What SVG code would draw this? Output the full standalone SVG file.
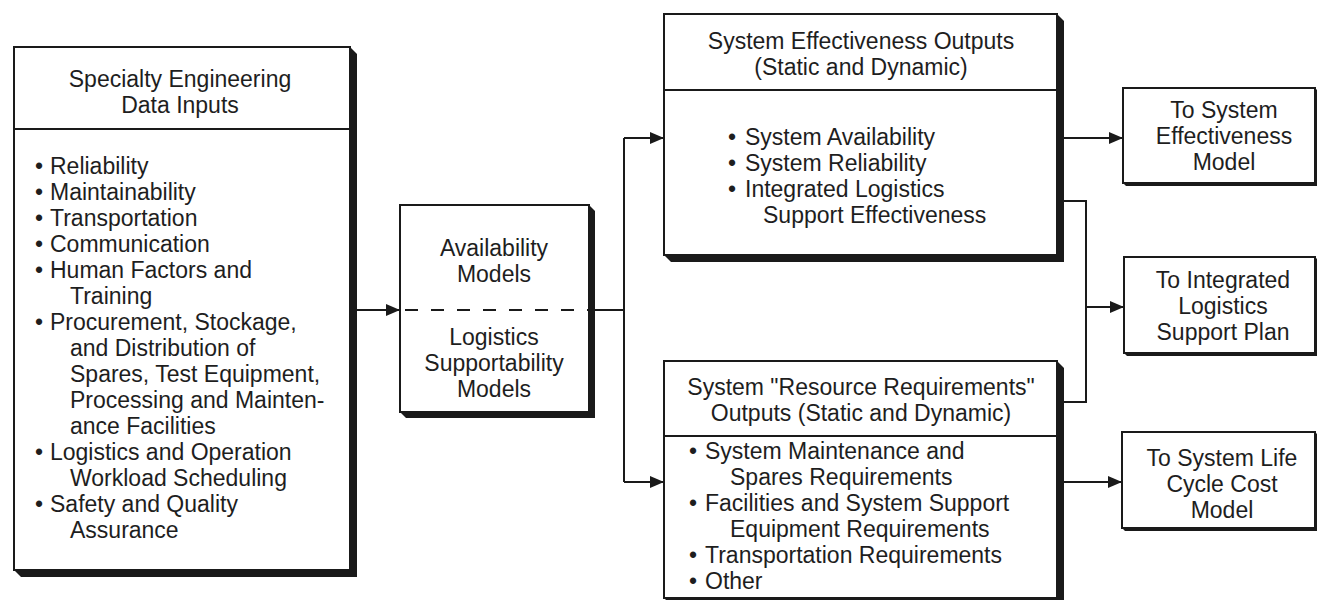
<svg xmlns="http://www.w3.org/2000/svg" width="1317" height="600" viewBox="0 0 1317 600">
<style>
.box{fill:#fff;stroke:#1a1a1a;stroke-width:2}
.shadow{fill:#1a1a1a}
.sep{stroke:#1a1a1a;stroke-width:2}
.t{font-family:"Liberation Sans",Arial,sans-serif;font-size:23px;fill:#1e1e1e}
.c{text-anchor:middle}
.ln{fill:none;stroke:#1a1a1a;stroke-width:2}
</style>
<defs>
<marker id="arr" markerUnits="userSpaceOnUse" markerWidth="14" markerHeight="12" refX="13" refY="6" orient="auto">
<path d="M0,0 L14,6 L0,12 z" fill="#1a1a1a"/>
</marker>
</defs>
<rect width="1317" height="600" fill="#fff"/>

<g id="connectors">
<line class="ln" x1="350" y1="310" x2="399" y2="310" marker-end="url(#arr)"/>
<line class="ln" x1="595" y1="310" x2="624" y2="310"/>
<line class="ln" x1="624" y1="138" x2="624" y2="482"/>
<line class="ln" x1="624" y1="138" x2="663" y2="138" marker-end="url(#arr)"/>
<line class="ln" x1="624" y1="482" x2="663" y2="482" marker-end="url(#arr)"/>
<line class="ln" x1="1064" y1="138" x2="1122" y2="138" marker-end="url(#arr)"/>
<polyline class="ln" points="1064,201 1086,201 1086,402 1064,402"/>
<line class="ln" x1="1086" y1="307" x2="1123" y2="307" marker-end="url(#arr)"/>
<line class="ln" x1="1064" y1="482" x2="1121" y2="482" marker-end="url(#arr)"/>
</g>

<g id="specialty-inputs">
<polygon class="shadow" points="350,47 357,54 357,577 21,577 14,570"/>
<rect class="box" x="14" y="47" width="336" height="523"/>
<line class="sep" x1="14" y1="129" x2="350" y2="129"/>
<text class="t c" x="180" y="87">Specialty Engineering</text>
<text class="t c" x="180" y="113">Data Inputs</text>
<g class="t">
<text x="35" y="174">•</text><text x="50" y="174">Reliability</text>
<text x="35" y="200">•</text><text x="50" y="200">Maintainability</text>
<text x="35" y="226">•</text><text x="50" y="226">Transportation</text>
<text x="35" y="252">•</text><text x="50" y="252">Communication</text>
<text x="35" y="278">•</text><text x="50" y="278">Human Factors and</text>
<text x="70" y="304">Training</text>
<text x="35" y="330">•</text><text x="50" y="330">Procurement, Stockage,</text>
<text x="70" y="356">and Distribution of</text>
<text x="70" y="382">Spares, Test Equipment,</text>
<text x="70" y="408">Processing and Mainten-</text>
<text x="70" y="434">ance Facilities</text>
<text x="35" y="460">•</text><text x="50" y="460">Logistics and Operation</text>
<text x="70" y="486">Workload Scheduling</text>
<text x="35" y="512">•</text><text x="50" y="512">Safety and Quality</text>
<text x="70" y="538">Assurance</text>
</g>
</g>

<g id="models">
<polygon class="shadow" points="589,205 595,211 595,418 406,418 400,412"/>
<rect class="box" x="400" y="205" width="189" height="207"/>
<line x1="402" y1="310" x2="589" y2="310" stroke="#1a1a1a" stroke-width="2" stroke-dasharray="13 13" stroke-dashoffset="-3"/>
<text class="t c" x="494" y="256">Availability</text>
<text class="t c" x="494" y="282">Models</text>
<text class="t c" x="494" y="345">Logistics</text>
<text class="t c" x="494" y="371">Supportability</text>
<text class="t c" x="494" y="397">Models</text>
</g>

<g id="effectiveness-outputs">
<polygon class="shadow" points="1057,14 1064,21 1064,262 671,262 664,255"/>
<rect class="box" x="664" y="14" width="393" height="241"/>
<line class="sep" x1="664" y1="90" x2="1057" y2="90"/>
<text class="t c" x="861" y="49">System Effectiveness Outputs</text>
<text class="t c" x="861" y="75">(Static and Dynamic)</text>
<g class="t">
<text x="728" y="145">•</text><text x="745" y="145">System Availability</text>
<text x="728" y="171">•</text><text x="745" y="171">System Reliability</text>
<text x="728" y="197">•</text><text x="745" y="197">Integrated Logistics</text>
<text x="763" y="223">Support Effectiveness</text>
</g>
</g>

<g id="resource-outputs">
<polygon class="shadow" points="1057,361 1064,368 1064,605 671,605 664,598"/>
<rect class="box" x="664" y="361" width="393" height="237"/>
<line class="sep" x1="664" y1="436" x2="1057" y2="436"/>
<text class="t c" x="861" y="395">System "Resource Requirements"</text>
<text class="t c" x="861" y="421">Outputs (Static and Dynamic)</text>
<g class="t">
<text x="689" y="459">•</text><text x="705" y="459">System Maintenance and</text>
<text x="730" y="485">Spares Requirements</text>
<text x="689" y="511">•</text><text x="705" y="511">Facilities and System Support</text>
<text x="730" y="537">Equipment Requirements</text>
<text x="689" y="563">•</text><text x="705" y="563">Transportation Requirements</text>
<text x="689" y="589">•</text><text x="705" y="589">Other</text>
</g>
</g>

<g id="to-effectiveness-model">
<polygon class="shadow" points="1315,88 1318,91 1318,186 1126,186 1123,183"/>
<rect class="box" x="1123" y="88" width="192" height="95"/>
<text class="t c" x="1224" y="118">To System</text>
<text class="t c" x="1224" y="144">Effectiveness</text>
<text class="t c" x="1224" y="170">Model</text>
</g>

<g id="to-ils-plan">
<polygon class="shadow" points="1315,257 1318,260 1318,356 1127,356 1124,353"/>
<rect class="box" x="1124" y="257" width="191" height="96"/>
<text class="t c" x="1223" y="288">To Integrated</text>
<text class="t c" x="1223" y="314">Logistics</text>
<text class="t c" x="1223" y="340">Support Plan</text>
</g>

<g id="to-lcc-model">
<polygon class="shadow" points="1315,432 1318,435 1318,531 1125,531 1122,528"/>
<rect class="box" x="1122" y="432" width="193" height="96"/>
<text class="t c" x="1222" y="466">To System Life</text>
<text class="t c" x="1222" y="492">Cycle Cost</text>
<text class="t c" x="1222" y="518">Model</text>
</g>
</svg>
